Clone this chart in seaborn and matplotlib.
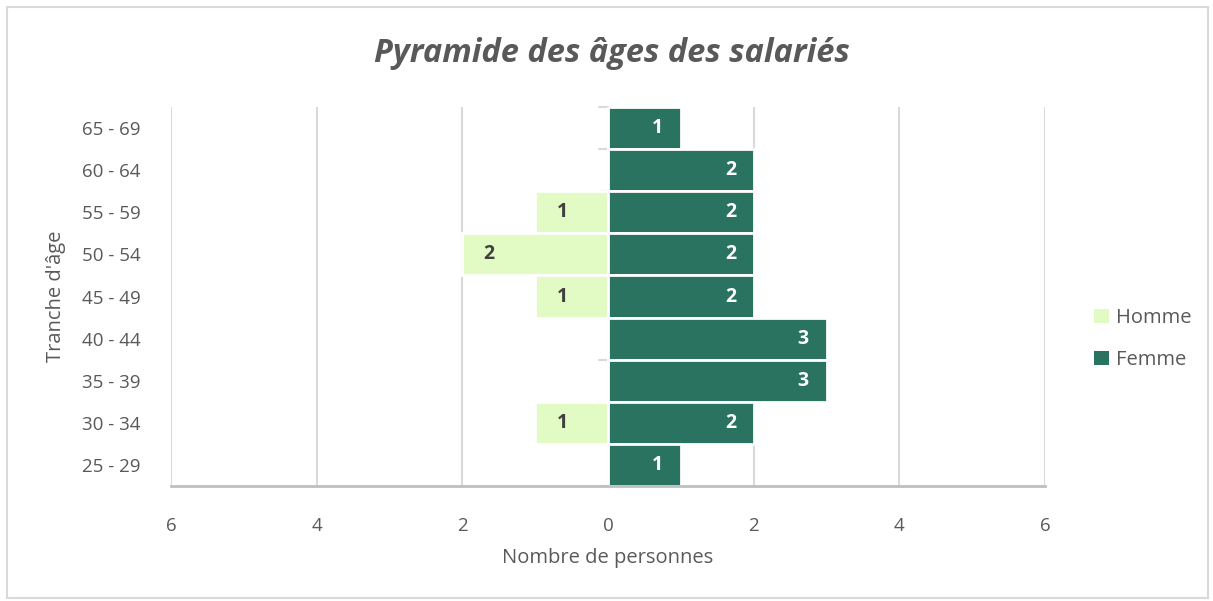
import matplotlib
matplotlib.use("Agg")
import matplotlib.pyplot as plt
import seaborn as sns
import pandas as pd
from matplotlib.patches import Rectangle, Patch

categories = ["65 - 69", "60 - 64", "55 - 59", "50 - 54", "45 - 49",
              "40 - 44", "35 - 39", "30 - 34", "25 - 29"]
homme = [0, 0, 1, 2, 1, 0, 0, 1, 0]
femme = [1, 2, 2, 2, 2, 3, 3, 2, 1]
x_ticks = [-6, -4, -2, 0, 2, 4, 6]
x_ticklabels = ["6", "4", "2", "0", "2", "4", "6"]

C_HOMME = "#E2FAC4"
C_FEMME = "#2A7360"
GREY = "#595959"

sns.set_theme(style="white")
plt.rcParams['font.family'] = ['Open Sans', 'DejaVu Sans']

df = pd.DataFrame({
    "Tranche": categories * 2,
    "Valeur": [-v for v in homme] + femme,
    "Sexe": ["Homme"] * len(categories) + ["Femme"] * len(categories),
})

fig = plt.figure(figsize=(12.13, 6.01), dpi=100)
ax = fig.add_axes([171/1213, 115/601, (1045-171)/1213, (486-107)/601])

sns.barplot(data=df, x="Valeur", y="Tranche", hue="Sexe", order=categories,
            hue_order=["Homme", "Femme"], palette=[C_HOMME, C_FEMME],
            saturation=1, dodge=False, width=1.0, orient="h", edgecolor="white",
            linewidth=2, ax=ax, legend=False, zorder=3)

ax.set_xlim(-6, 6)
ax.set_ylim(len(categories) - 0.5, -0.5)
ax.set_xticks(x_ticks)
ax.set_xticklabels(x_ticklabels)
for xv in x_ticks:
    ax.axvline(xv, color="#D9D9D9", lw=1.5, zorder=1)

for s in ["top", "right", "left"]:
    ax.spines[s].set_visible(False)
ax.spines["bottom"].set_color("#BFBFBF")
ax.spines["bottom"].set_linewidth(2)
ax.spines["bottom"].set_zorder(4)

# small category tick marks at x=0
for b in range(len(categories) + 1):
    ax.plot([-0.13, 0], [b - 0.5, b - 0.5], color="#D9D9D9", lw=1.5, zorder=2,
            clip_on=False)

ax.tick_params(axis="x", length=0, pad=22, labelsize=13.5, labelcolor=GREY)
ax.tick_params(axis="y", length=0, pad=22, labelsize=13.5, labelcolor=GREY)

for i, (h, f) in enumerate(zip(homme, femme)):
    if h:
        ax.text(-h + 0.37, i, str(h), ha="center", va="center",
                fontsize=14, fontweight="bold", color="#404040", zorder=5)
    if f:
        ax.text(f - 0.32, i, str(f), ha="center", va="center",
                fontsize=14, fontweight="bold", color="white", zorder=5)

ax.set_xlabel("Nombre de personnes", fontsize=14.5, color=GREY, labelpad=10)
ax.set_ylabel("Tranche d'âge", fontsize=14.5, color=GREY, labelpad=11)

fig.text(612/1213, 1 - 53/601, "Pyramide des âges des salariés",
         ha="center", va="center", fontsize=23.5, fontweight="bold",
         fontstyle="italic", color=GREY)

handles = [Patch(facecolor=C_HOMME, edgecolor="none", label="Homme"),
           Patch(facecolor=C_FEMME, edgecolor="none", label="Femme")]
fig.legend(handles=handles, loc="center left", bbox_to_anchor=(1076/1213, 1 - 339/601),
           frameon=False, fontsize=14.5, labelcolor=GREY, handlelength=0.75,
           handleheight=0.75, handletextpad=0.35, labelspacing=1.1)

fig.patches.append(Rectangle((7/1213, 3/601), 1201/1213, 591/601,
                             transform=fig.transFigure, fill=False,
                             edgecolor="#D9D9D9", lw=1.5))

fig.savefig("out.png", dpi=100)
